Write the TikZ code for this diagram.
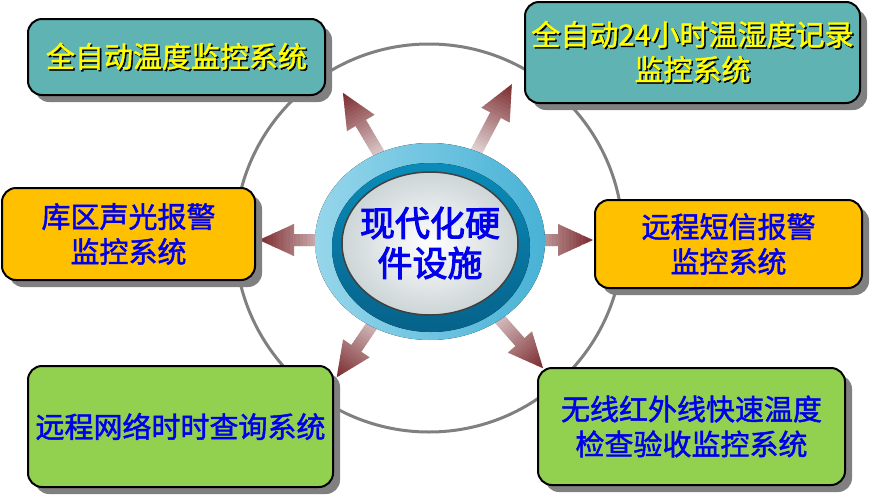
\documentclass[tikz,border=0pt]{standalone}
\usepackage{fontspec}
\newfontfamily\cjk[AutoFakeBold=1.6]{Noto Sans CJK SC}
\newfontfamily\hubfont[FakeBold=2.8]{Noto Sans CJK SC}
\usetikzlibrary{shadows}
\definecolor{boxteal}{RGB}{95,179,179}
\definecolor{boxgold}{RGB}{255,192,0}
\definecolor{boxgreen}{RGB}{146,208,80}
\definecolor{textblue}{RGB}{0,0,235}
\definecolor{textyellow}{RGB}{255,255,0}
\definecolor{shadowgray}{RGB}{128,128,128}
\definecolor{arrowlight}{RGB}{236,228,228}
\definecolor{arrowdark}{RGB}{120,38,42}
\definecolor{ringlight}{RGB}{150,214,235}
\definecolor{ringmid}{RGB}{72,178,214}
\definecolor{bandtop}{RGB}{10,140,185}
\definecolor{bandbottom}{RGB}{6,98,138}
\definecolor{facegray}{RGB}{205,213,215}
\newcommand{\shadowed}[1]{\makebox[0pt][l]{\kern1.5pt\raisebox{-1.5pt}{\color{black}#1}}#1}

\begin{document}
\begin{tikzpicture}[x=1pt, y=-1pt,
    sysbox/.style={draw=black, line width=2pt, rounded corners=14pt, align=center,
      inner sep=0pt, font=\cjk\bfseries\fontsize{29}{35}\selectfont,
      drop shadow={shadow xshift=7pt, shadow yshift=-7pt, fill=shadowgray, opacity=1}},
    tealbox/.style={sysbox, fill=boxteal, text=textyellow},
    goldbox/.style={sysbox, fill=boxgold, text=textblue},
    greenbox/.style={sysbox, fill=boxgreen, text=textblue},
    hubtext/.style={align=center, text=textblue, font=\hubfont\fontsize{35}{40}\selectfont}]
  \useasboundingbox[fill=white] (0,0) rectangle (883,496);
  % Ring
  \draw[shadowgray, line width=3pt] (429,238) circle [radius=194];
  % Spokes
  \coordinate (hubc) at (430,240);
  \foreach \ang/\len in {120.6/171, 62.3/176, 180/171, 0/163, 235.8/166, 311.4/171}{
    \begin{scope}[shift={(hubc)}, rotate=\ang]
      \clip (60,-6) -- ({\len-35},-6) -- ({\len-35},-16) -- (\len,0)
        -- ({\len-35},16) -- ({\len-35},6) -- (60,6) -- cycle;
      \fill[arrowlight] (60,-20) rectangle (\len,20);
      \foreach \i [evaluate=\i as \p using int(4*\i)] in {0,...,24}
        \fill[arrowdark!\p!arrowlight] ({\len-85+3.4*\i},-20) rectangle ++(4,40);
    \end{scope}
  }
  % Hub
  \fill[left color=ringlight, right color=ringmid] (430,241.5) ellipse [x radius=115, y radius=98.5];
  \fill[top color=bandtop, bottom color=bandbottom] (431,247.5) ellipse [x radius=99, y radius=84.5];
  \draw[black!75, line width=1.5pt, inner color=white, outer color=facegray]
    (430,243.5) ellipse [x radius=88, y radius=71.5];
  \node[hubtext] (hub) at (430,243) {现代化硬\\件设施};
  % Systems
  \node[tealbox, minimum width=297pt, minimum height=76pt] (tempctl) at (176.5,57)
    {\shadowed{全自动温度监控系统}};
  \node[tealbox, minimum width=335pt, minimum height=101pt] (daylog) at (692.5,52.5)
    {\shadowed{全自动24小时温湿度记录}\\\shadowed{监控系统}};
  \node[goldbox, minimum width=253pt, minimum height=92pt] (alarm) at (128.5,234)
    {库区声光报警\\监控系统};
  \node[goldbox, minimum width=267pt, minimum height=88pt] (sms) at (728.5,244)
    {远程短信报警\\监控系统};
  \node[greenbox, minimum width=305pt, minimum height=121pt] (remote) at (180.5,426.5)
    {远程网络时时查询系统};
  \node[greenbox, minimum width=307pt, minimum height=117pt] (infrared) at (691.5,426.5)
    {无线红外线快速温度\\检查验收监控系统};
\end{tikzpicture}
\end{document}
